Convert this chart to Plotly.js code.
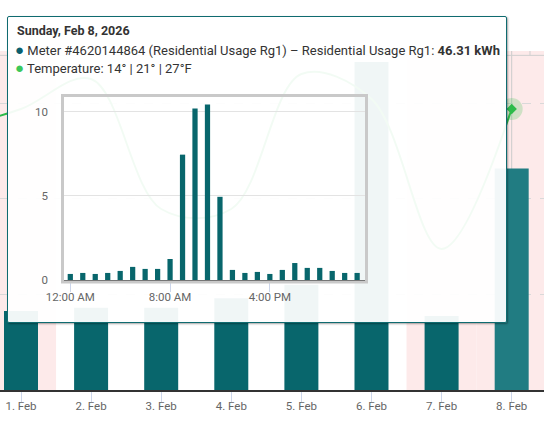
<!DOCTYPE html>
<html>
<head>
<meta charset="utf-8">
<script src="https://cdn.plot.ly/plotly-3.0.1.min.js"></script>
<style>
  html, body { margin:0; padding:0; background:#fff; }
  #wrap { position:relative; width:544px; height:428px; overflow:hidden; }
  #main, #mini { position:absolute; left:0; top:0; width:544px; height:428px; }
  #tip { position:absolute; left:7px; top:16px; width:500px; height:307px; box-sizing:border-box;
         border:1px solid #0f6b70; border-radius:2px; background:rgba(255,255,255,0.94);
         box-shadow:1px 1px 2px rgba(0,0,0,0.35); }
  #mini { pointer-events:none; }
</style>
</head>
<body>
<div id="wrap">
  <div id="main"></div>
  <div id="tip"></div>
  <div id="mini"></div>
</div>
<script>
// ---- data ----
const days = ['1. Feb','2. Feb','3. Feb','4. Feb','5. Feb','6. Feb','7. Feb','8. Feb'];
const usageKWh = [16.5, 17.2, 17.2, 19.2, 22.0, 68.6, 15.5, 46.31];
const weekendDays = ['1. Feb','7. Feb','8. Feb'];
const hoveredDay = '8. Feb';
// temperature (avg °F), first value belongs to 31 Jan (just left of view)
const tempDays = ['31. Jan','1. Feb','2. Feb','3. Feb','4. Feb','5. Feb','6. Feb','7. Feb','8. Feb'];
const tempAvgF = [17, 21, 27, 1, 1, 28, 23, -7, 21];
// hourly usage for the hovered day (Feb 8)
const hours = [0,1,2,3,4,5,6,7,8,9,10,11,12,13,14,15,16,17,18,19,20,21,22,23];
const hourlyKWh = [0.36,0.42,0.36,0.42,0.54,0.78,0.66,0.66,1.25,7.46,10.2,10.44,4.95,0.6,0.42,0.48,0.36,0.6,1.01,0.72,0.72,0.54,0.42,0.42];
const hourTickVals = [0, 8, 16];
const hourTickText = ['12:00 AM','8:00 AM','4:00 PM'];
const tipTitle = 'Sunday, Feb 8, 2026';
const meterName = 'Meter #4620144864 (Residential Usage Rg1) – Residential Usage Rg1';
const meterValue = '46.31 kWh';
const tempText = 'Temperature: 14° | 21° | 27°F';

// ---- main chart ----
const FONT = 'Roboto, "Liberation Sans", sans-serif';
const W = 544, H = 428;
const px = v => v / W, py = v => 1 - v / H;
const dayIdx = days.map((d, i) => i);
const hovIdx = days.indexOf(hoveredDay);
const barColors = days.map(d => d === hoveredDay ? '#217c82' : '#08666c');
const tempIdx = tempDays.map((d, i) => i - 1);

const shapes = [];
weekendDays.forEach(d => {
  const i = days.indexOf(d);
  shapes.push({type:'rect', xref:'x', yref:'paper', x0:i-0.5, x1:(i === days.length-1 ? i+1.5 : i+0.5), y0:0, y1:1,
    fillcolor:'#fdeaea', line:{width:0}, layer:'below'});
});
// crosshair at hovered category
shapes.push({type:'line', xref:'x', yref:'paper', x0:hovIdx, x1:hovIdx, y0:0, y1:1,
  line:{color:'#cccccc', width:1}, layer:'below'});
// page decoration above chart
shapes.push({type:'line', xref:'paper', yref:'paper', x0:0, x1:1, y0:py(5.5), y1:py(5.5), line:{color:'#cfcfcf', width:1}});
[67.7, 211, 371.7, 479, 530].forEach(x => shapes.push({type:'line', xref:'paper', yref:'paper', x0:px(x), x1:px(x), y0:py(0), y1:py(5.5), line:{color:'#cfcfcf', width:1}}));

const mainTraces = [
  {type:'bar', x:dayIdx, y:usageKWh, marker:{color:barColors, line:{width:0}}, width:0.485, hoverinfo:'skip'},
  {type:'scatter', mode:'lines', x:tempIdx, y:tempAvgF, yaxis:'y2', line:{color:'#2dbb4a', width:2, shape:'spline', smoothing:1}, hoverinfo:'skip'},
  {type:'scatter', mode:'markers', x:[hovIdx], y:[tempAvgF[tempDays.indexOf(hoveredDay)]], yaxis:'y2',
    marker:{size:22, color:'rgba(46,190,70,0.22)', line:{width:0}}, hoverinfo:'skip'},
  {type:'scatter', mode:'markers', x:[hovIdx], y:[tempAvgF[tempDays.indexOf(hoveredDay)]], yaxis:'y2',
    marker:{size:8, symbol:'diamond', color:'#2dbb4a', line:{width:0}}, hoverinfo:'skip'}
];
const mainLayout = {
  width:W, height:H, margin:{l:0, r:0, t:51, b:38},
  paper_bgcolor:'#fff', plot_bgcolor:'#fff', showlegend:false,
  font:{family:FONT, color:'#666', size:11},
  xaxis:{range:[-0.2996, 7.461], tickvals:dayIdx, ticktext:days, ticks:'outside', ticklen:10, tickcolor:'#ccd6eb',
    ticklabelstandoff:-5,
    showline:true, linecolor:'#333', linewidth:1.5, showgrid:false, zeroline:false, fixedrange:true,
    tickfont:{size:11.5, color:'#666'}},
  yaxis:{range:[0, 70.9], dtick:20, showticklabels:false, showgrid:true, gridcolor:'#d9d9d9', griddash:'dash',
    zeroline:false, fixedrange:true},
  yaxis2:{overlaying:'y', range:[-35.2, 32.6], visible:false, showgrid:false, zeroline:false},
  shapes:shapes, hovermode:false
};
Plotly.newPlot('main', mainTraces, mainLayout, {staticPlot:true, displayModeBar:false});

// ---- tooltip with hourly mini chart ----
const dot = c => '<span style="color:' + c + ';font-size:15px">●</span> ';
const miniLayout = {
  width:W, height:H, margin:{l:0, r:0, t:0, b:0},
  paper_bgcolor:'rgba(0,0,0,0)', plot_bgcolor:'rgba(0,0,0,0)', showlegend:false,
  font:{family:FONT, color:'#666', size:11},
  xaxis:{domain:[px(64), px(365)], range:[-0.505, 23.63], tickvals:hourTickVals, ticktext:hourTickText,
    ticks:'outside', ticklen:10, tickcolor:'#ccd6eb', ticklabelstandoff:-5, showline:true, linecolor:'#222', linewidth:2,
    showgrid:false, zeroline:false, tickfont:{size:11.5, color:'#666'}},
  yaxis:{domain:[py(280), py(97)], range:[0, 10.89], tickvals:[0,5,10], ticks:'', ticklabelstandoff:15,
    showgrid:true, gridcolor:'#e3e3e3', zeroline:false, showline:false, tickfont:{size:11.5, color:'#666'}},
  shapes:[
    {type:'rect', xref:'paper', yref:'paper', x0:px(62.5), x1:px(366.5), y0:py(282), y1:py(95.5),
      line:{color:'#c9c9c9', width:3}, fillcolor:'rgba(0,0,0,0)', layer:'above'}
  ],
  annotations:[
    {xref:'paper', yref:'paper', x:px(15), y:py(31), xanchor:'left', yanchor:'middle', showarrow:false,
      text:'<b>' + tipTitle + '</b>', font:{size:12.5, color:'#333', family:FONT}},
    {xref:'paper', yref:'paper', x:px(13), y:py(50), xanchor:'left', yanchor:'middle', showarrow:false,
      text:dot('#0b5f6e') + meterName + ': <b>' + meterValue + '</b>', font:{size:13, color:'#333', family:FONT}},
    {xref:'paper', yref:'paper', x:px(13), y:py(68), xanchor:'left', yanchor:'middle', showarrow:false,
      text:dot('#3cc85a') + tempText, font:{size:13, color:'#333', family:FONT}}
  ],
  hovermode:false
};
const miniTraces = [
  {type:'bar', x:hours, y:hourlyKWh, marker:{color:'#08666c', line:{width:0}}, width:0.42, hoverinfo:'skip'}
];
Plotly.newPlot('mini', miniTraces, miniLayout, {staticPlot:true, displayModeBar:false});
</script>
</body>
</html>
